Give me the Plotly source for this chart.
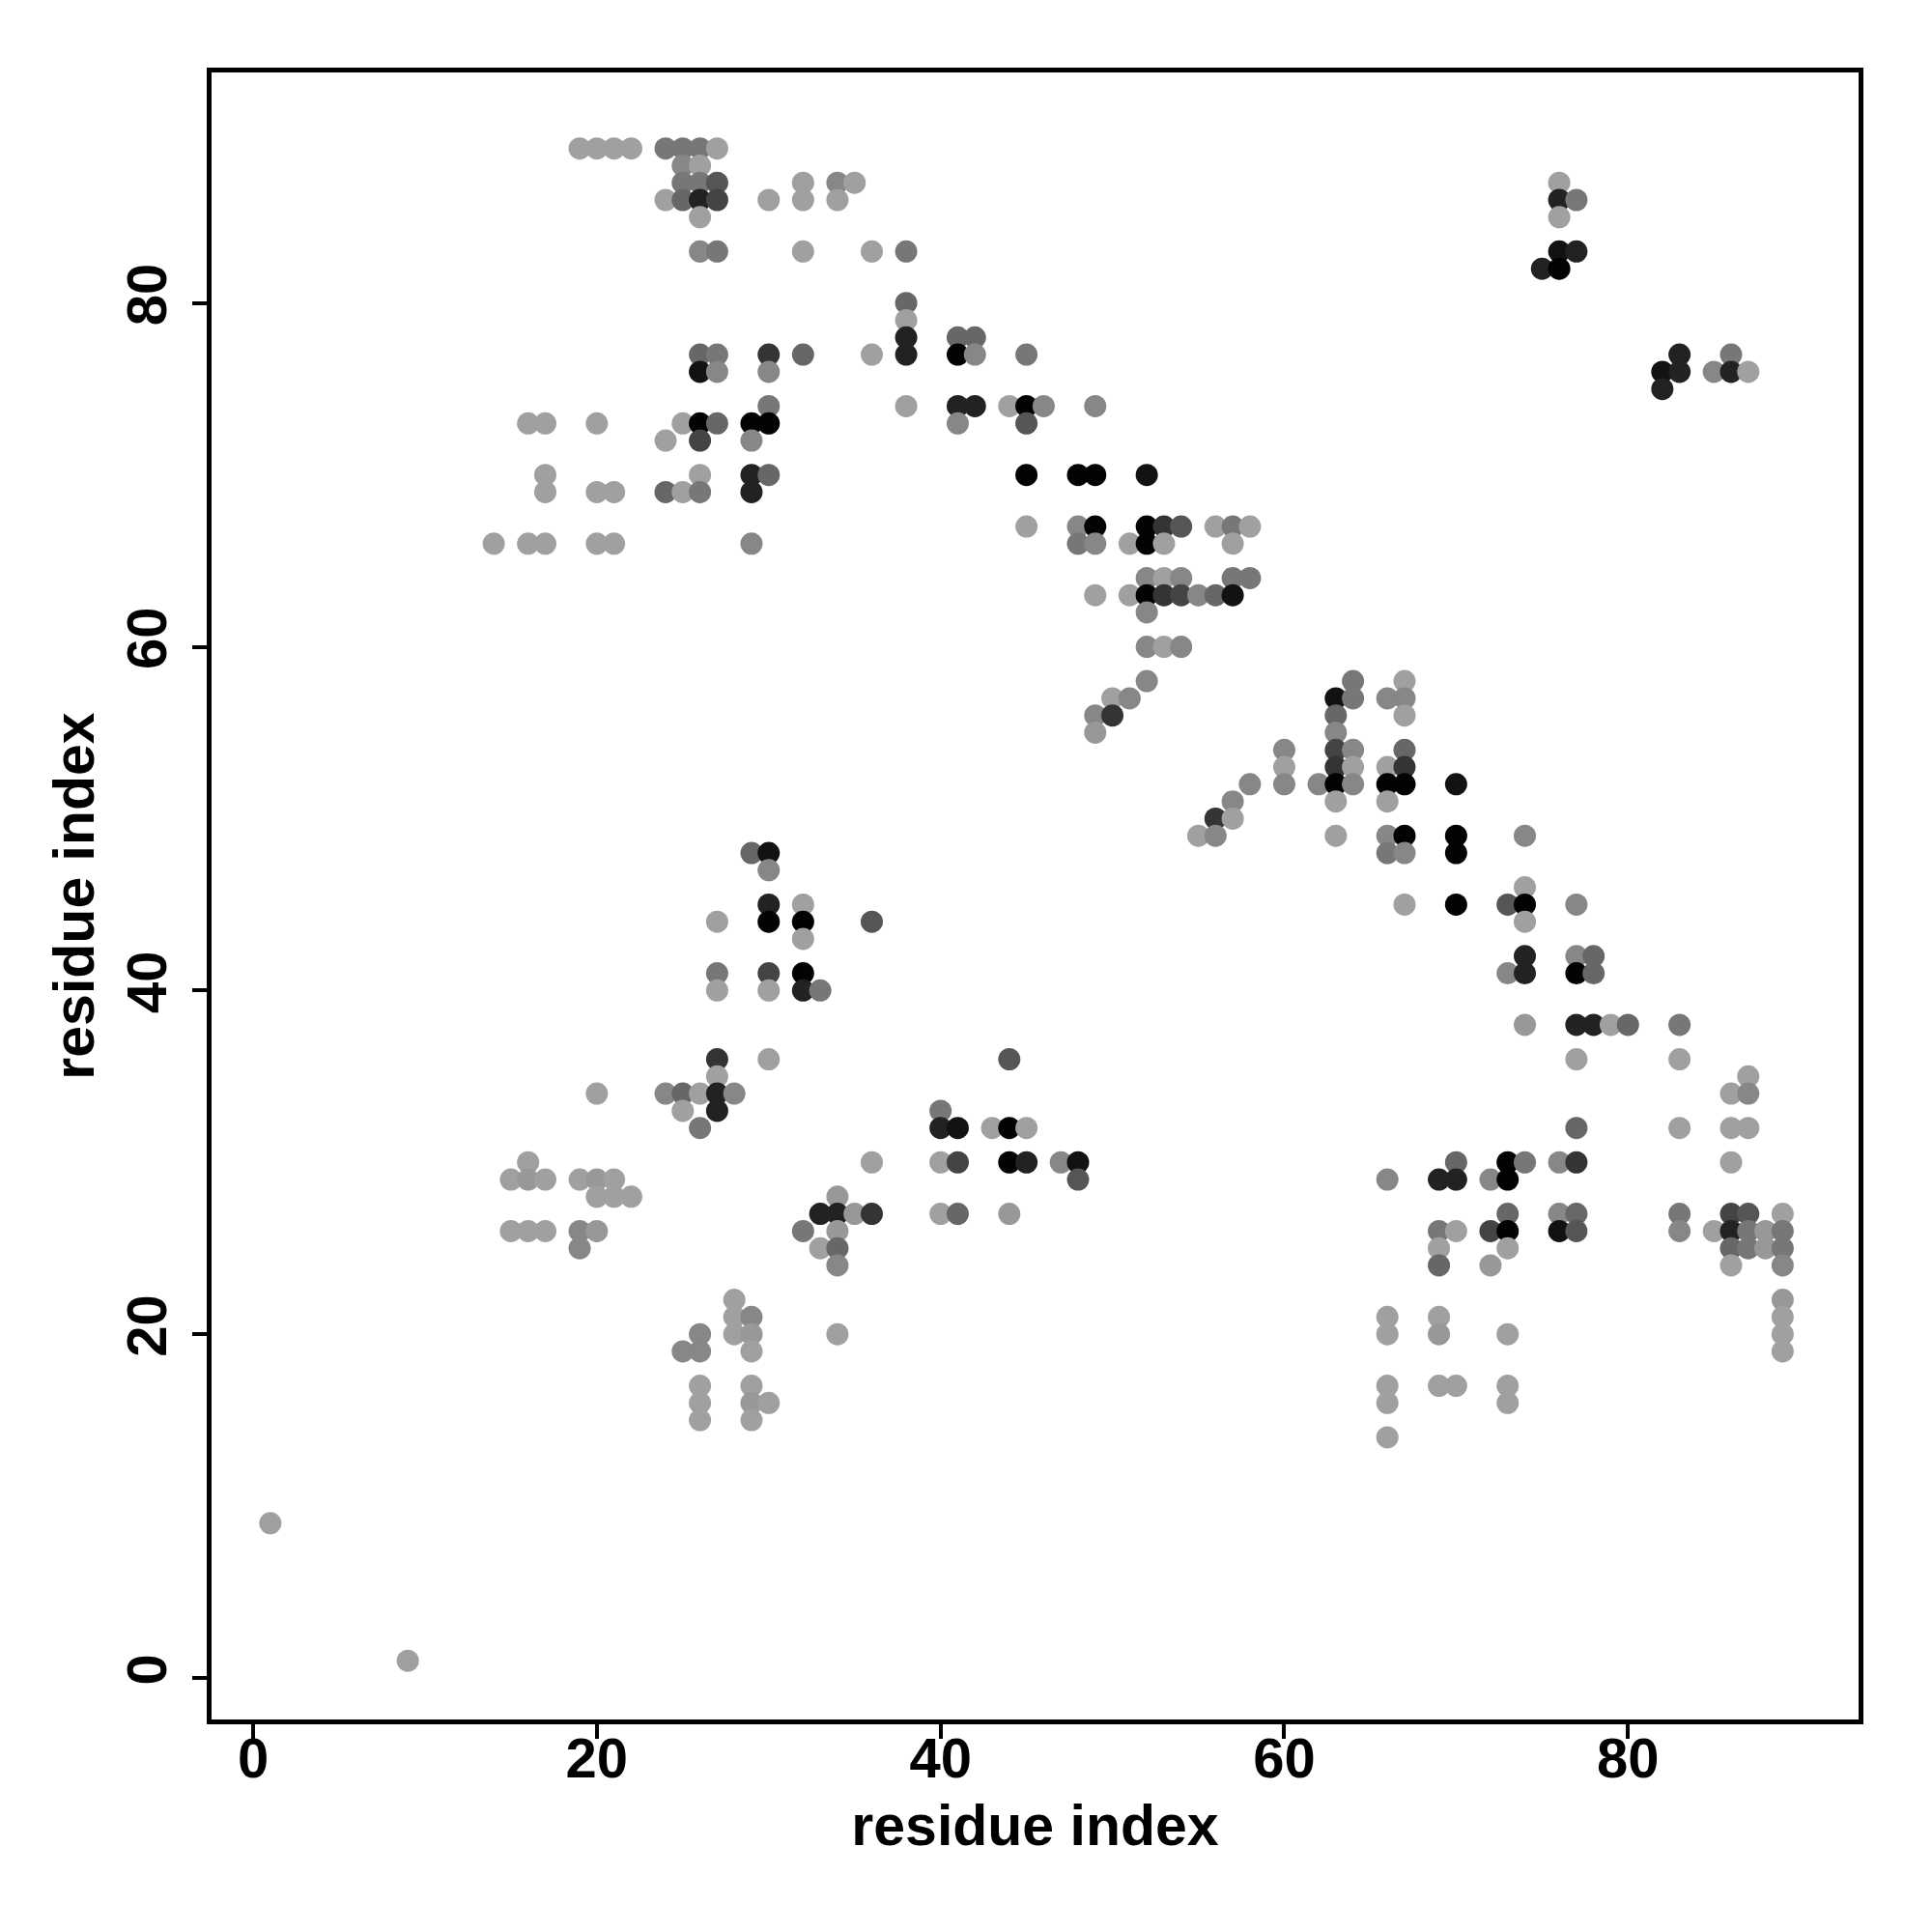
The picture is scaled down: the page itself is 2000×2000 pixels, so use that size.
import plotly.graph_objects as go

# residue contact map: x residue index, y residue index, contact probability (shade)
res_i = [
    19, 20, 21, 22, 24, 25, 26, 27,            # 89
    25, 26,                                    # 88
    25, 26, 27, 32, 34, 35, 76,                # 87
    24, 25, 26, 27, 30, 32, 34, 76, 77,        # 86
    26, 76,                                    # 85
    26, 27, 32, 36, 38, 76, 77,                # 83
    75, 76,                                    # 82
    38,                                        # 80
    38,                                        # 79
    38, 41, 42,                                # 78
    26, 27, 30, 32, 36, 38, 41, 42, 45, 83, 86,  # 77
    26, 27, 30, 82, 83, 85, 86, 87,            # 76
    82,                                        # 75
    30, 38, 41, 42, 44, 45, 46, 49,            # 74
    16, 17, 20, 25, 26, 27, 29, 30, 41, 45,    # 73
    24, 26, 29,                                # 72
    17, 26, 29, 30, 45, 48, 49, 52,            # 70
    17, 20, 21, 24, 25, 26, 29,                # 69
    45, 48, 49, 52, 53, 54, 56, 57, 58,        # 67
    14, 16, 17, 20, 21, 29, 48, 49, 51, 52, 53, 57,  # 66
    52, 53, 54, 57, 58,                        # 64
    49, 51, 52, 53, 54, 55, 56, 57,            # 63
    52,                                        # 62
    52, 53, 54,                                # 60
    52, 64, 67,                                # 58
    50, 51, 63, 64, 66, 67,                    # 57
    49, 50, 63, 67,                            # 56
    49, 63,                                    # 55
    60, 63, 64, 67,                            # 54
    60, 63, 64, 66, 67,                        # 53
    58, 60, 62, 63, 64, 66, 67, 70,            # 52
    57, 63, 66,                                # 51
    56, 57,                                    # 50
    55, 56, 63, 66, 67, 70, 74,                # 49
    29, 30, 66, 67, 70,                        # 48
    30,                                        # 47
    74,                                        # 46
    30, 32, 67, 70, 73, 74, 77,                # 45
    27, 30, 32, 36, 74,                        # 44
    32,                                        # 43
    74, 77, 78,                                # 42
    27, 30, 32, 73, 74, 77, 78,                # 41
    27, 30, 32, 33,                            # 40
    74, 77, 78, 79, 80, 83,                    # 38
    27, 30, 44, 77, 83,                        # 36
    27, 87,                                    # 35
    20, 24, 25, 26, 27, 28, 86, 87,            # 34
    25, 27, 40,                                # 33
    26, 40, 41, 43, 44, 45, 77, 83, 86, 87,    # 32
    16, 36, 40, 41, 44, 45, 47, 48, 70, 73, 74, 76, 77, 86,  # 30
    15, 16, 17, 19, 20, 21, 48, 66, 69, 70, 72, 73,  # 29
    20, 21, 22, 34,                            # 28
    33, 34, 35, 36, 40, 41, 44, 73, 76, 77, 83, 86, 87, 89,  # 27
    15, 16, 17, 19, 20, 32, 34, 69, 70, 72, 73, 76, 77, 83, 85, 86, 87, 88, 89,  # 26
    19, 33, 34, 69, 73, 86, 87, 88, 89,        # 25
    34, 69, 72, 86, 89,                        # 24
    28, 89,                                    # 22
    28, 29, 66, 69, 89,                        # 21
    26, 28, 29, 34, 66, 69, 73, 89,            # 20
    25, 26, 29, 89,                            # 19
    26, 29, 66, 69, 70, 73,                    # 17
    26, 29, 30, 66, 73,                        # 16
    26, 29,                                    # 15
    66,                                        # 14
    1,                                         # 9
    9,                                         # 1
]

res_j = [
    89, 89, 89, 89, 89, 89, 89, 89,
    88, 88,
    87, 87, 87, 87, 87, 87, 87,
    86, 86, 86, 86, 86, 86, 86, 86, 86,
    85, 85,
    83, 83, 83, 83, 83, 83, 83,
    82, 82,
    80,
    79,
    78, 78, 78,
    77, 77, 77, 77, 77, 77, 77, 77, 77, 77, 77,
    76, 76, 76, 76, 76, 76, 76, 76,
    75,
    74, 74, 74, 74, 74, 74, 74, 74,
    73, 73, 73, 73, 73, 73, 73, 73, 73, 73,
    72, 72, 72,
    70, 70, 70, 70, 70, 70, 70, 70,
    69, 69, 69, 69, 69, 69, 69,
    67, 67, 67, 67, 67, 67, 67, 67, 67,
    66, 66, 66, 66, 66, 66, 66, 66, 66, 66, 66, 66,
    64, 64, 64, 64, 64,
    63, 63, 63, 63, 63, 63, 63, 63,
    62,
    60, 60, 60,
    58, 58, 58,
    57, 57, 57, 57, 57, 57,
    56, 56, 56, 56,
    55, 55,
    54, 54, 54, 54,
    53, 53, 53, 53, 53,
    52, 52, 52, 52, 52, 52, 52, 52,
    51, 51, 51,
    50, 50,
    49, 49, 49, 49, 49, 49, 49,
    48, 48, 48, 48, 48,
    47,
    46,
    45, 45, 45, 45, 45, 45, 45,
    44, 44, 44, 44, 44,
    43,
    42, 42, 42,
    41, 41, 41, 41, 41, 41, 41,
    40, 40, 40, 40,
    38, 38, 38, 38, 38, 38,
    36, 36, 36, 36, 36,
    35, 35,
    34, 34, 34, 34, 34, 34, 34, 34,
    33, 33, 33,
    32, 32, 32, 32, 32, 32, 32, 32, 32, 32,
    30, 30, 30, 30, 30, 30, 30, 30, 30, 30, 30, 30, 30, 30,
    29, 29, 29, 29, 29, 29, 29, 29, 29, 29, 29, 29,
    28, 28, 28, 28,
    27, 27, 27, 27, 27, 27, 27, 27, 27, 27, 27, 27, 27, 27,
    26, 26, 26, 26, 26, 26, 26, 26, 26, 26, 26, 26, 26, 26, 26, 26, 26, 26, 26,
    25, 25, 25, 25, 25, 25, 25, 25, 25,
    24, 24, 24, 24, 24,
    22, 22,
    21, 21, 21, 21, 21,
    20, 20, 20, 20, 20, 20, 20, 20,
    19, 19, 19, 19,
    17, 17, 17, 17, 17, 17,
    16, 16, 16, 16, 16,
    15, 15,
    14,
    9,
    1,
]

prob = [
    .02, .02, .02, .02, .27, .27, .27, .02,
    .17, .02,
    .27, .27, .47, .02, .17, .02, .02,
    .02, .37, .79, .58, .02, .02, .02, .79, .27,
    .02, .02,
    .17, .27, .02, .02, .27, .89, .79,
    .79, .98,
    .37,
    .02,
    .79, .37, .37,
    .37, .27, .68, .37, .02, .79, .98, .17, .27, .79, .27,
    .89, .17, .17, .89, .79, .17, .79, .02,
    .79,
    .27, .02, .79, .79, .02, .98, .17, .17,
    .02, .02, .02, .02, .98, .37, .98, .98, .17, .47,
    .02, .58, .17,
    .02, .02, .79, .37, .98, .98, .98, .89,
    .02, .02, .02, .37, .02, .27, .79,
    .02, .17, .98, .98, .68, .47, .02, .27, .02,
    .02, .02, .02, .02, .02, .17, .27, .17, .02, .98, .02, .02,
    .17, .02, .17, .27, .27,
    .02, .02, .98, .68, .58, .17, .37, .89,
    .17,
    .17, .02, .17,
    .17, .27, .02,
    .02, .17, .89, .27, .17, .17,
    .17, .68, .37, .02,
    .07, .17,
    .17, .58, .17, .37,
    .02, .68, .02, .02, .68,
    .17, .17, .17, .98, .17, .98, .98, .89,
    .17, .02, .02,
    .68, .02,
    .02, .17, .02, .17, .98, .98, .17,
    .37, .89, .27, .17, .98,
    .17,
    .02,
    .79, .02, .02, .98, .47, .98, .17,
    .02, .98, .98, .47, .02,
    .02,
    .79, .17, .37,
    .27, .58, .98, .17, .79, .98, .37,
    .02, .02, .79, .27,
    .07, .79, .79, .02, .37, .27,
    .68, .02, .47, .02, .02,
    .02, .02,
    .02, .17, .37, .02, .79, .17, .02, .17,
    .02, .79, .27,
    .27, .79, .89, .02, .98, .02, .37, .02, .02, .02,
    .02, .02, .02, .58, .98, .79, .17, .89, .37, .98, .27, .17, .68, .02,
    .02, .07, .02, .02, .07, .02, .47, .17, .79, .79, .17, .98,
    .02, .02, .02, .07,
    .79, .79, .07, .68, .02, .37, .07, .37, .17, .37, .27, .58, .47, .02,
    .02, .02, .02, .17, .07, .27, .07, .27, .02, .58, .98, .89, .47, .17, .02, .79, .27, .07, .27,
    .17, .02, .37, .02, .02, .37, .27, .07, .27,
    .17, .37, .07, .02, .17,
    .02, .07,
    .02, .17, .02, .02, .02,
    .17, .02, .07, .02, .02, .07, .02, .02,
    .17, .17, .02, .02,
    .02, .02, .02, .02, .02, .02,
    .02, .07, .02, .02, .02,
    .02, .02,
    .02,
    .02,
    .02,
]

tick_vals = [0, 20, 40, 60, 80]
axis_label = "residue index"

FONT = "Liberation Sans"

fig = go.Figure()
fig.add_trace(go.Scatter(
    x=res_i, y=res_j, mode="markers",
    marker=dict(
        size=23,
        color=prob,
        cmin=0, cmax=1,
        colorscale=[[0, "rgb(163,163,163)"], [1, "rgb(0,0,0)"]],
        line=dict(width=0),
        showscale=False,
    ),
    showlegend=False,
    hoverinfo="x+y",
))

axis_common = dict(
    range=[-2.42, 93.42],
    tickvals=tick_vals,
    ticktext=[str(v) for v in tick_vals],
    ticks="outside",
    ticklen=15,
    tickwidth=4,
    tickcolor="black",
    showline=True,
    mirror=True,
    linewidth=5,
    linecolor="black",
    showgrid=False,
    zeroline=False,
    tickfont=dict(family=FONT, size=58, color="black", weight="bold"),
)

fig.update_layout(
    width=2000, height=2000,
    margin=dict(l=211, r=84, t=67, b=228),
    paper_bgcolor="white",
    plot_bgcolor="white",
    xaxis=dict(
        **axis_common,
        ticklabelstandoff=-30,
        title=dict(text=axis_label, font=dict(family=FONT, size=59, color="black", weight="bold"), standoff=20),
    ),
    yaxis=dict(
        **axis_common,
        tickangle=-90,
        ticklabelstandoff=4,
        title=dict(text=axis_label, font=dict(family=FONT, size=59, color="black", weight="bold"), standoff=4),
    ),
)

fig.write_html("out.html")
